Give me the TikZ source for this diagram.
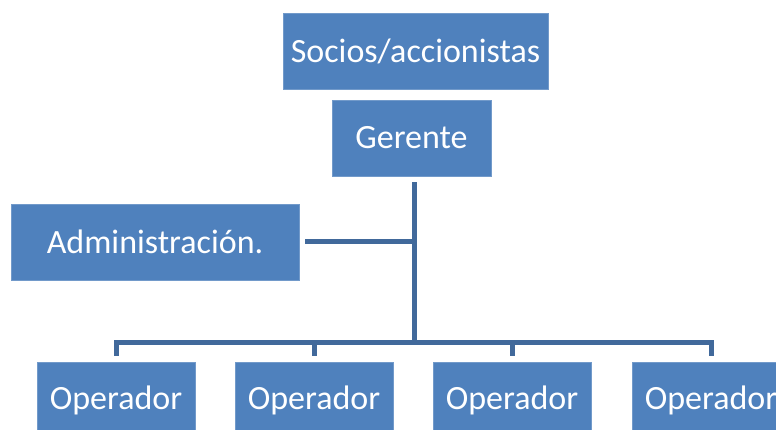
\documentclass[tikz,border=0pt]{standalone}
\usepackage{fontspec}
\setmainfont{Carlito}
\definecolor{boxblue}{HTML}{4F81BD}
\definecolor{lineblue}{HTML}{41699B}
\begin{document}
\begin{tikzpicture}[x=1pt,y=1pt,
  orgbox/.style={fill=boxblue, draw=boxblue!80!white, line width=0.6pt, text=white, inner sep=0pt,
    minimum height=76pt, font=\fontsize{34}{40}\selectfont},
  conn/.style={draw=lineblue, line width=5pt}]
\useasboundingbox (0,0) rectangle (776,430);
\clip (0,0) rectangle (776,430);
\node[orgbox, minimum width=265pt] (soc) at (415.5,379) {Socios/accionistas};
\node[orgbox, minimum width=159pt] (ger) at (411.5,292) {Gerente};
\node[orgbox, minimum width=288pt] (adm) at (155,188) {Administración.};
\node[orgbox, minimum width=158pt] (op1) at (116,30) {Operador};
\node[orgbox, minimum width=158pt] (op2) at (314,30) {Operador};
\node[orgbox, minimum width=158pt] (op3) at (512,30) {Operador};
\node[orgbox, minimum width=158pt] (op4) at (711,30) {Operador};
\coordinate (trunk) at (414,87);
\draw[conn] ([yshift=-6pt]ger.south -| trunk) -- (trunk);
\draw[conn] (adm.east -| trunk) -- ([xshift=6pt]adm.east);
\draw[conn] ([yshift=6pt]op1.north) |- (op4.north |- trunk) -- ([yshift=6pt]op4.north);
\draw[conn] (op2.north |- trunk) -- ([yshift=6pt]op2.north);
\draw[conn] (op3.north |- trunk) -- ([yshift=6pt]op3.north);
\end{tikzpicture}
\end{document}
